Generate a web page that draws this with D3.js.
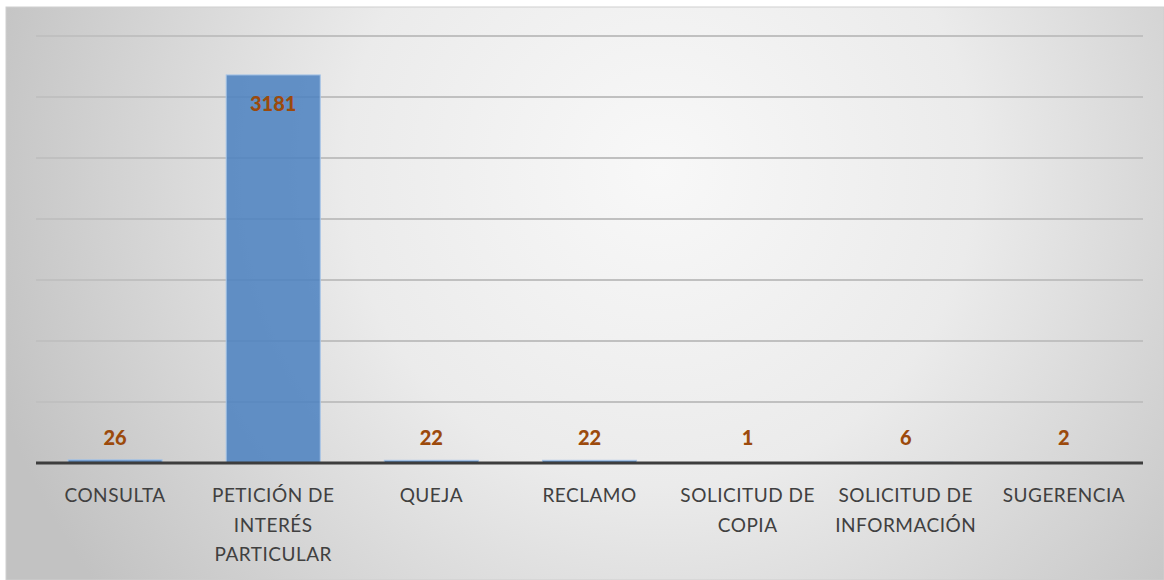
<!DOCTYPE html>
<html>
<head>
<meta charset="utf-8">
<script src="https://cdn.jsdelivr.net/npm/d3@7"></script>
<style>
  html, body { margin: 0; padding: 0; background: #ffffff; }
  svg { display: block; }
</style>
</head>
<body>
<svg id="chart" width="1164" height="580"></svg>
<script>
const categories = ["CONSULTA", "PETICIÓN DE INTERÉS PARTICULAR", "QUEJA", "RECLAMO", "SOLICITUD DE COPIA", "SOLICITUD DE INFORMACIÓN", "SUGERENCIA"];
const values = [26, 3181, 22, 22, 1, 6, 2];
const yTicks = [0, 500, 1000, 1500, 2000, 2500, 3000, 3500];

const W = 1164, H = 580;
const svg = d3.select("#chart");
const defs = svg.append("defs");
const grad = defs.append("radialGradient")
  .attr("id", "bg").attr("gradientUnits", "userSpaceOnUse")
  .attr("cx", 660).attr("cy", 170).attr("r", 700)
  .attr("fx", 660).attr("fy", 170);
grad.append("stop").attr("offset", "0").attr("stop-color", "#f8f8f8");
grad.append("stop").attr("offset", "0.45").attr("stop-color", "#ebebeb");
grad.append("stop").attr("offset", "1").attr("stop-color", "#c2c2c2");

svg.append("rect").attr("x", 6).attr("y", 7).attr("width", W - 6).attr("height", H - 7)
  .attr("fill", "url(#bg)").attr("stroke", "#cfcfcf").attr("stroke-width", 1);

const x = d3.scaleBand().domain(categories).range([36, 1143]).paddingInner(0.405).paddingOuter(0.2025);
const y = d3.scaleLinear().domain([0, 3500]).range([463, 36]);

// gridlines
svg.append("g").selectAll("line").data(yTicks.filter(d => d > 0)).join("line")
  .attr("x1", 36).attr("x2", 1143)
  .attr("y1", d => y(d)).attr("y2", d => y(d))
  .attr("stroke", "#c0c0c0").attr("stroke-width", 1.8);

// bars
svg.append("g").selectAll("rect").data(values).join("rect")
  .attr("x", (d, i) => x(categories[i]))
  .attr("y", d => y(d))
  .attr("width", x.bandwidth())
  .attr("height", d => y(0) - y(d))
  .attr("fill", "#4a80c0").attr("fill-opacity", 0.85)
  .attr("stroke", "#a9c6e8").attr("stroke-width", 1);

// baseline
svg.append("line").attr("x1", 36).attr("x2", 1143).attr("y1", y(0)).attr("y2", y(0))
  .attr("stroke", "#3d3d3d").attr("stroke-width", 3);

// value labels
svg.append("g").selectAll("text").data(values).join("text")
  .attr("x", (d, i) => x(categories[i]) + x.bandwidth() / 2)
  .attr("y", d => (y(0) - y(d) > 50) ? y(d) + 28 : y(0) - 26)
  .attr("text-anchor", "middle").attr("dominant-baseline", "central")
  .attr("font-family", "Lato, 'Open Sans', sans-serif").attr("font-weight", "900")
  .attr("font-size", 20).attr("fill", "#9c4a0c")
  .text(d => d);

// category labels with wrapping
const maxW = 145;
const catG = svg.append("g");
categories.forEach((c, i) => {
  const t = catG.append("text")
    .attr("x", x(c) + x.bandwidth() / 2).attr("y", 494)
    .attr("text-anchor", "middle").attr("dominant-baseline", "central")
    .attr("font-family", "Lato, 'Open Sans', sans-serif")
    .attr("font-size", 19).attr("letter-spacing", 0.5).attr("fill", "#404040");
  const words = c.split(" ");
  let lines = [], cur = [];
  words.forEach(w => {
    const trial = cur.concat([w]).join(" ");
    t.text(trial);
    if (t.node().getComputedTextLength() > maxW && cur.length) {
      lines.push(cur.join(" "));
      cur = [w];
    } else cur.push(w);
  });
  if (cur.length) lines.push(cur.join(" "));
  t.text(null);
  lines.forEach((ln, k) => {
    t.append("tspan").attr("x", x(c) + x.bandwidth() / 2).attr("y", 494 + k * 29.5).text(ln);
  });
});
</script>
</body>
</html>
